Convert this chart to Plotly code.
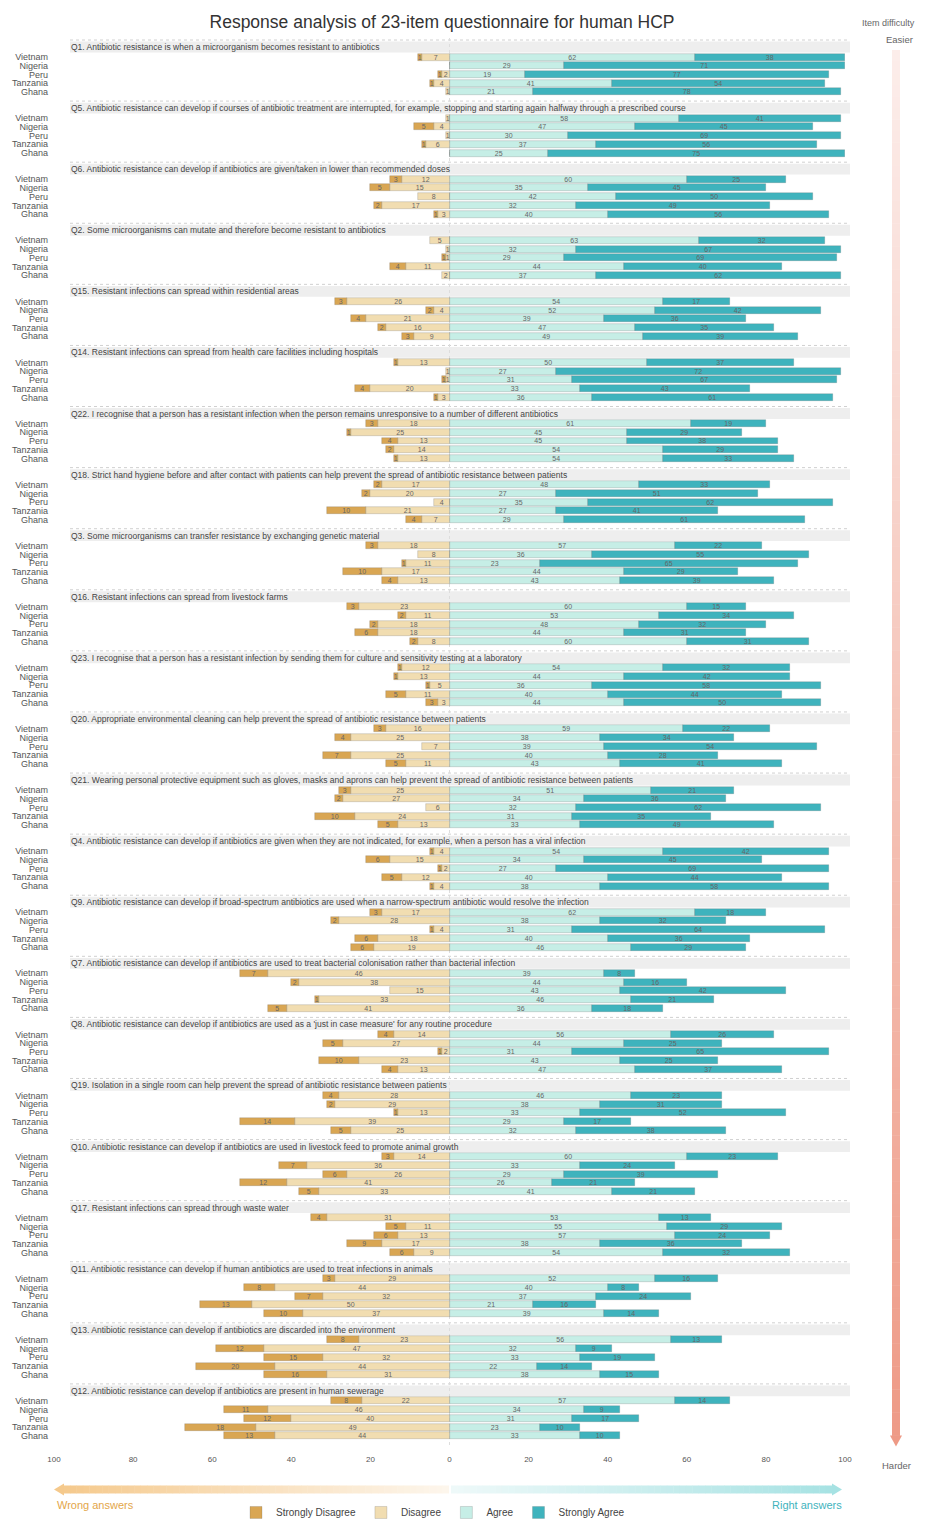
import plotly.graph_objects as go

countries = ["Vietnam", "Nigeria", "Peru", "Tanzania", "Ghana"]

questions = [
    "Q1. Antibiotic resistance is when a microorganism becomes resistant to antibiotics",
    "Q5. Antibiotic resistance can develop if courses of antibiotic treatment are interrupted, for example, stopping and starting again halfway through a prescribed course",
    "Q6. Antibiotic resistance can develop if antibiotics are given/taken in lower than recommended doses",
    "Q2. Some microorganisms can mutate and therefore become resistant to antibiotics",
    "Q15. Resistant infections can spread within residential areas",
    "Q14. Resistant infections can spread from health care facilities including hospitals",
    "Q22. I recognise that a person has a resistant infection when the person remains unresponsive to a number of different antibiotics",
    "Q18. Strict hand hygiene before and after contact with patients can help prevent the spread of antibiotic resistance between patients",
    "Q3. Some microorganisms can transfer resistance by exchanging genetic material",
    "Q16. Resistant infections can spread from livestock farms",
    "Q23. I recognise that a person has a resistant infection by sending them for culture and sensitivity testing at a laboratory",
    "Q20. Appropriate environmental cleaning can help prevent the spread of antibiotic resistance between patients",
    "Q21. Wearing personal protective equipment such as gloves, masks and aprons can help prevent the spread of antibiotic resistance between patients",
    "Q4. Antibiotic resistance can develop if antibiotics are given when they are not indicated, for example, when a person has a viral infection",
    "Q9. Antibiotic resistance can develop if broad-spectrum antibiotics are used when a narrow-spectrum antibiotic would resolve the infection",
    "Q7. Antibiotic resistance can develop if antibiotics are used to treat bacterial colonisation rather than bacterial infection",
    "Q8. Antibiotic resistance can develop if antibiotics are used as a 'just in case measure' for any routine procedure",
    "Q19. Isolation in a single room can help prevent the spread of antibiotic resistance between patients",
    "Q10. Antibiotic resistance can develop if antibiotics are used in livestock feed to promote animal growth",
    "Q17. Resistant infections can spread through waste water",
    "Q11. Antibiotic resistance can develop if human antibiotics are used to treat infections in animals",
    "Q13. Antibiotic resistance can develop if antibiotics are discarded into the environment",
    "Q12. Antibiotic resistance can develop if antibiotics are present in human sewerage",
]

# per question: 5 countries (Vietnam, Nigeria, Peru, Tanzania, Ghana)
strongly_disagree = [
    [1, 0, 1, 1, 0], [0, 5, 0, 1, 0], [3, 5, 0, 2, 1], [0, 0, 1, 4, 0],
    [3, 2, 4, 2, 3], [1, 0, 1, 4, 1], [3, 1, 4, 2, 1], [2, 2, 0, 10, 4],
    [3, 0, 1, 10, 4], [3, 2, 2, 6, 2], [1, 1, 1, 5, 3], [3, 4, 0, 7, 5],
    [3, 2, 0, 10, 5], [1, 6, 1, 5, 1], [3, 2, 1, 6, 6], [7, 2, 0, 1, 5],
    [4, 5, 1, 10, 4], [4, 2, 1, 14, 5], [3, 7, 6, 12, 5], [4, 5, 6, 9, 6],
    [3, 8, 7, 13, 10], [8, 12, 15, 20, 16], [8, 11, 12, 18, 13],
]
disagree = [
    [7, 0, 2, 4, 1], [1, 4, 1, 6, 0], [12, 15, 8, 17, 3], [5, 1, 1, 11, 2],
    [26, 4, 21, 16, 9], [13, 1, 1, 20, 3], [18, 25, 13, 14, 13], [17, 20, 4, 21, 7],
    [18, 8, 11, 17, 13], [23, 11, 18, 18, 8], [12, 13, 5, 11, 3], [16, 25, 7, 25, 11],
    [25, 27, 6, 24, 13], [4, 15, 2, 12, 4], [17, 28, 4, 18, 19], [46, 38, 15, 33, 41],
    [14, 27, 2, 23, 13], [28, 29, 13, 39, 25], [14, 36, 26, 41, 33], [31, 11, 13, 17, 9],
    [29, 44, 32, 50, 37], [23, 47, 32, 44, 31], [22, 46, 40, 49, 44],
]
agree = [
    [62, 29, 19, 41, 21], [58, 47, 30, 37, 25], [60, 35, 42, 32, 40], [63, 32, 29, 44, 37],
    [54, 52, 39, 47, 49], [50, 27, 31, 33, 36], [61, 45, 45, 54, 54], [48, 27, 35, 27, 29],
    [57, 36, 23, 44, 43], [60, 53, 48, 44, 60], [54, 44, 36, 40, 44], [59, 38, 39, 40, 43],
    [51, 34, 32, 31, 33], [54, 34, 27, 40, 38], [62, 38, 31, 40, 46], [39, 44, 43, 46, 36],
    [56, 44, 31, 43, 47], [46, 38, 33, 29, 32], [60, 33, 29, 26, 41], [53, 55, 57, 38, 54],
    [52, 40, 37, 21, 39], [56, 32, 33, 22, 38], [57, 34, 31, 23, 33],
]
strongly_agree = [
    [38, 71, 77, 54, 78], [41, 45, 69, 56, 75], [25, 45, 50, 49, 56], [32, 67, 69, 40, 62],
    [17, 42, 36, 35, 39], [37, 72, 67, 43, 61], [19, 29, 38, 29, 33], [33, 51, 62, 41, 61],
    [22, 55, 65, 29, 39], [15, 34, 32, 31, 31], [32, 42, 58, 44, 50], [22, 34, 54, 28, 41],
    [21, 36, 62, 35, 49], [42, 45, 69, 44, 58], [18, 32, 64, 36, 29], [8, 16, 42, 21, 18],
    [26, 25, 65, 25, 37], [23, 31, 52, 17, 38], [23, 24, 39, 21, 21], [13, 29, 24, 36, 32],
    [16, 8, 24, 16, 14], [13, 9, 19, 14, 15], [14, 9, 17, 10, 10],
]

x_ticks = [-100, -80, -60, -40, -20, 0, 20, 40, 60, 80, 100]
x_tick_text = ["100", "80", "60", "40", "20", "0", "20", "40", "60", "80", "100"]

col_sd = "#D9A653"
col_d = "#F1DDB1"
col_a = "#C6EEE6"
col_sa = "#3FB3BD"

# ---- layout geometry (page pixels; the page body has an 8px margin) ----
W, H = 928, 1520
BODY = 8
PL, PR, PT, PB = 54, 845, 38, 1445.5          # plot area in page pixels
ML = PL - BODY
MT = PT - BODY
MR = W - (PR - BODY)
MB = H - (PB - BODY)
PW = PR - PL
PH = PB - PT
GROUP = 7.0
OFF = 1.15
Y0, Y1 = -1.03, 160.2


def pxx(px):
    return (px - PL) / PW


def pxy(py):
    return (PB - py) / PH


ys, yt = [], []
for g in range(len(questions)):
    for c, name in enumerate(countries):
        ys.append(GROUP * g + OFF + c)
        yt.append(name)


def flat(arr):
    return [v for row in arr for v in row]


def labels(vals):
    return [str(v) if v > 0 else "" for v in vals]


fig = go.Figure()
series = [
    ("Disagree", disagree, col_d, -1, 2),
    ("Strongly Disagree", strongly_disagree, col_sd, -1, 1),
    ("Agree", agree, col_a, 1, 3),
    ("Strongly Agree", strongly_agree, col_sa, 1, 4),
]
for name, arr, col, sign, rank in series:
    vals = flat(arr)
    fig.add_trace(go.Bar(
        name=name, orientation="h", y=ys, x=[sign * v for v in vals],
        marker=dict(color=col, line=dict(width=0.6, color="rgba(90,90,90,0.35)")),
        width=0.8, text=labels(vals), textposition="inside",
        insidetextanchor="middle", textangle=0,
        textfont=dict(size=7, color="#666666", family="Liberation Sans Narrow, Arial Narrow, Arial, sans-serif"),
        legendrank=rank, hoverinfo="x+y+name", cliponaxis=False,
    ))

shapes = []
annotations = []
for g, q in enumerate(questions):
    yc = GROUP * g
    shapes.append(dict(type="rect", xref="paper", yref="y", x0=pxx(70), x1=pxx(850),
                       y0=yc - 0.62, y1=yc + 0.62, fillcolor="#EEEEEE", line=dict(width=0), layer="below"))
    shapes.append(dict(type="line", xref="paper", yref="y", x0=pxx(70), x1=pxx(850),
                       y0=yc - 0.8, y1=yc - 0.8, line=dict(color="#D0D0D0", width=1, dash="dot"), layer="below"))
    annotations.append(dict(text=q, xref="paper", yref="y", x=pxx(69), y=yc, xanchor="left",
                            yanchor="middle", showarrow=False,
                            font=dict(size=8.5, color="#444", family="Liberation Sans Narrow, Arial Narrow, Arial, sans-serif")))

# zero line
shapes.append(dict(type="line", xref="x", yref="paper", x0=0, x1=0, y0=0, y1=1,
                   line=dict(color="#DDDDDD", width=1, dash="dot"), layer="below"))


def lerp(c1, c2, t):
    a = [int(c1[i:i + 2], 16) for i in (1, 3, 5)]
    b = [int(c2[i:i + 2], 16) for i in (1, 3, 5)]
    return "rgb(%d,%d,%d)" % tuple(round(a[k] + (b[k] - a[k]) * t) for k in range(3))


N = 60
# left (wrong answers) arrow
lx0, lx1, ay, ah = 449, 64, 1490, 4
for i in range(N):
    xa = lx0 + (lx1 - lx0) * i / N
    xb = lx0 + (lx1 - lx0) * (i + 1) / N
    shapes.append(dict(type="rect", xref="paper", yref="paper", x0=pxx(xa), x1=pxx(xb) - 0.0005,
                       y0=pxy(ay + ah), y1=pxy(ay - ah), fillcolor=lerp("#FDF6EC", "#F5C98C", i / N),
                       line=dict(width=0)))
shapes.append(dict(type="path", xref="paper", yref="paper",
                   path="M %f,%f L %f,%f L %f,%f Z" % (pxx(lx1), pxy(ay - 6), pxx(54), pxy(ay), pxx(lx1), pxy(ay + 6)),
                   fillcolor="#F5C98C", line=dict(width=0)))
# right (right answers) arrow
rx0, rx1 = 451, 832
for i in range(N):
    xa = rx0 + (rx1 - rx0) * i / N
    xb = rx0 + (rx1 - rx0) * (i + 1) / N
    shapes.append(dict(type="rect", xref="paper", yref="paper", x0=pxx(xa), x1=pxx(xb) + 0.0005,
                       y0=pxy(ay + ah), y1=pxy(ay - ah), fillcolor=lerp("#EEF9F9", "#A6E2E3", i / N),
                       line=dict(width=0)))
shapes.append(dict(type="path", xref="paper", yref="paper",
                   path="M %f,%f L %f,%f L %f,%f Z" % (pxx(rx1), pxy(ay - 6), pxx(842), pxy(ay), pxx(rx1), pxy(ay + 6)),
                   fillcolor="#A6E2E3", line=dict(width=0)))
# vertical difficulty arrow
vx, vw, vy0, vy1 = 896, 4, 50, 1436
for i in range(N * 2):
    ya = vy0 + (vy1 - vy0) * i / (2 * N)
    yb = vy0 + (vy1 - vy0) * (i + 1) / (2 * N)
    shapes.append(dict(type="rect", xref="paper", yref="paper", x0=pxx(vx - vw), x1=pxx(vx + vw),
                       y0=pxy(yb) - 0.0003, y1=pxy(ya), fillcolor=lerp("#FCEDEA", "#EE9A86", i / (2 * N)),
                       line=dict(width=0)))
shapes.append(dict(type="path", xref="paper", yref="paper",
                   path="M %f,%f L %f,%f L %f,%f Z" % (pxx(vx - 6), pxy(vy1), pxx(vx), pxy(1447), pxx(vx + 6), pxy(vy1)),
                   fillcolor="#EE9A86", line=dict(width=0)))

side_font = dict(size=9.5, color="#666", family="Liberation Sans, Arial, sans-serif")
annotations += [
    dict(text="Item difficulty", xref="paper", yref="paper", x=pxx(917), y=pxy(23), showarrow=False,
         xanchor="right", yanchor="middle", font=dict(size=9, color="#666", family="Liberation Sans, Arial, sans-serif")),
    dict(text="Easier", xref="paper", yref="paper", x=pxx(899), y=pxy(40), showarrow=False,
         xanchor="center", yanchor="middle", font=side_font),
    dict(text="Harder", xref="paper", yref="paper", x=pxx(896), y=pxy(1466), showarrow=False,
         xanchor="center", yanchor="middle", font=side_font),
    dict(text="Wrong answers", xref="paper", yref="paper", x=pxx(55), y=pxy(1506), showarrow=False,
         xanchor="left", yanchor="middle", font=dict(size=11, color="#E3A64A", family="Liberation Sans, Arial, sans-serif")),
    dict(text="Right answers", xref="paper", yref="paper", x=pxx(844), y=pxy(1506), showarrow=False,
         xanchor="right", yanchor="middle", font=dict(size=11, color="#3FB3BD", family="Liberation Sans, Arial, sans-serif")),
]

fig.update_layout(
    width=W, height=H,
    margin=dict(l=ML, r=MR, t=MT, b=MB, autoexpand=False),
    paper_bgcolor="white", plot_bgcolor="white",
    barmode="relative", bargap=0,
    title=dict(text="Response analysis of 23-item questionnaire for human HCP", x=(442 - BODY) / W, xanchor="center",
               y=1 - (22 - BODY) / H, yanchor="middle",
               font=dict(size=17.5, color="#333", family="Liberation Sans, Arial, sans-serif")),
    xaxis=dict(range=[-100, 100], tickvals=x_ticks, ticktext=x_tick_text, showgrid=False, zeroline=False,
               showline=False, ticks="", automargin=False, ticklabelstandoff=8,
               tickfont=dict(size=8, color="#555", family="Liberation Sans, Arial, sans-serif")),
    yaxis=dict(range=[Y1, Y0], tickvals=ys, ticktext=yt, showgrid=False, zeroline=False, showline=False,
               ticks="", ticklabelstandoff=5, automargin=False,
               tickfont=dict(size=9, color="#555", family="Liberation Sans Narrow, Arial Narrow, Arial, sans-serif")),
    uniformtext=dict(minsize=7, mode="show"),
    legend=dict(orientation="h", x=pxx(433), xanchor="center", y=pxy(1513), yanchor="middle",
                font=dict(size=10, color="#444", family="Liberation Sans, Arial, sans-serif"),
                itemwidth=30, bgcolor="rgba(0,0,0,0)", traceorder="normal"),
    shapes=shapes, annotations=annotations, showlegend=True,
)

fig.write_html("out.html")
